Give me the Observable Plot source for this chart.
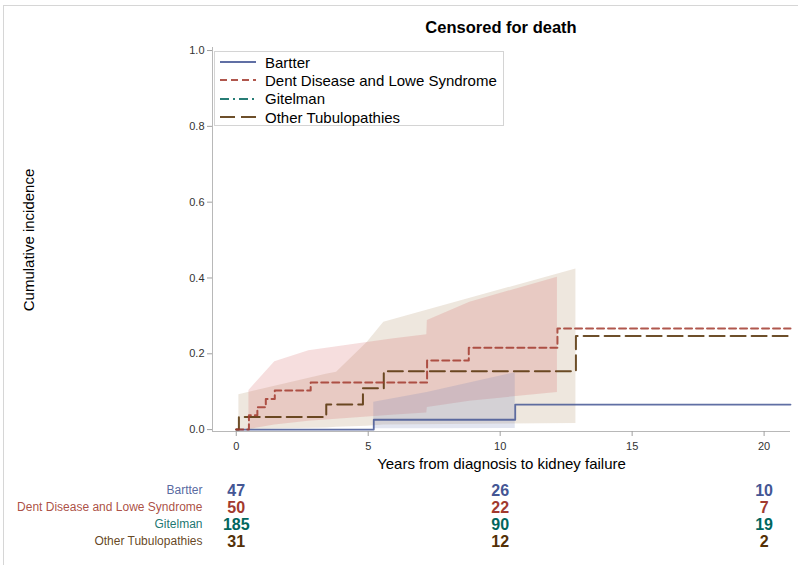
<!DOCTYPE html>
<html><head><meta charset="utf-8">
<script src="https://cdn.jsdelivr.net/npm/d3@7"></script>
<script src="https://cdn.jsdelivr.net/npm/@observablehq/plot@0.6"></script>
<style>
body{margin:0;background:#fff;font-family:"Liberation Sans",Arial,sans-serif;}
#wrap{position:relative;width:798px;height:565px;overflow:hidden;}
#border{position:absolute;left:3px;top:5px;width:900px;height:700px;border-top:1px solid #d6d6d6;border-left:1px solid #d6d6d6;}
#title{position:absolute;top:18px;left:212px;width:578px;text-align:center;font-weight:bold;font-size:16.5px;color:#000;}
#ylab{position:absolute;left:28px;top:240px;transform:translate(-50%,-50%) rotate(-90deg);font-size:15px;white-space:nowrap;color:#000;}
#main{position:absolute;left:0;top:0;}
#risk{position:absolute;left:0;top:480px;}
#legend{position:absolute;left:214px;top:51px;width:290px;height:75px;border:1px solid #d4d4d4;background:#fff;box-sizing:border-box;padding-top:1px;}
.item{display:flex;align-items:center;height:18.3px;font-size:15px;color:#000;}
.item svg{margin-left:5px;margin-right:9px;}
svg{overflow:visible;}
</style></head>
<body><div id="wrap"><div id="border"></div><div id="title">Censored for death</div><div id="main"></div><div id="risk"></div><div id="legend"></div><div id="ylab">Cumulative incidence</div></div>
<script>
const groups = ["Bartter", "Dent Disease and Lowe Syndrome", "Gitelman", "Other Tubulopathies"];
const colors = ["#445694", "#A23A2E", "#01665E", "#543005"];
const bandColors = ["#6F7EB3", "#D05B5B", "#66A5A0", "#A9865B"];
const dashes = ["none", "7,4", "9,4,2,4", "15,6"];

// cumulative incidence step curves
const bartterT = [0, 5.21, 10.57, 21];
const bartterCIF = [0, 0.026, 0.066, 0.066];
const dentT = [0, 0.48, 0.80, 1.12, 1.46, 2.82, 7.23, 8.81, 12.17, 21];
const dentCIF = [0, 0.038, 0.059, 0.081, 0.103, 0.124, 0.182, 0.216, 0.267, 0.267];
const otherT = [0, 0.1, 3.41, 4.80, 5.59, 12.87, 21];
const otherCIF = [0, 0.033, 0.066, 0.109, 0.154, 0.247, 0.247];

// confidence bands
const bartterBandT = [5.21, 7.23, 10.57];
const bartterLo = [0.002, 0.002, 0.003];
const bartterHi = [0.072, 0.098, 0.150];
const dentBandT = [0.48, 1.46, 2.75, 5.9, 7.22, 7.24, 8.85, 12.17];
const dentLo = [0.0, 0.012, 0.022, 0.038, 0.044, 0.058, 0.075, 0.098];
const dentHi = [0.103, 0.179, 0.208, 0.239, 0.250, 0.288, 0.336, 0.402];
const otherBandT = [0.1, 3.41, 3.8, 4.96, 5.59, 12.87];
const otherLo = [0.0, 0.004, 0.006, 0.009, 0.012, 0.016];
const otherHi = [0.092, 0.146, 0.151, 0.230, 0.283, 0.424];

// numbers at risk
const riskAt = [0, 10, 20];
const bartterRisk = [47, 26, 10];
const dentRisk = [50, 22, 7];
const gitelmanRisk = [185, 90, 19];
const otherRisk = [31, 12, 2];

const xTicks = [0, 5, 10, 15, 20];
const yTicks = [0, 0.2, 0.4, 0.6, 0.8, 1.0];

const toPts = (T, V, g) => T.map((t, i) => ({t, v: V[i], g}));
const toBand = (T, L, H, g) => T.map((t, i) => ({t, lo: L[i], hi: H[i], g}));

const xDomain = [-0.9, 21];
const colorScale = {domain: groups, range: colors};

const main = Plot.plot({
  width: 798, height: 480,
  marginLeft: 212, marginRight: 8, marginTop: 47, marginBottom: 49,
  style: {fontFamily: '"Liberation Sans", Arial, sans-serif', background: "transparent"},
  x: {domain: xDomain, label: null},
  y: {domain: [-0.005, 1.008], label: null},
  color: colorScale,
  marks: [
    Plot.areaY(toBand(otherBandT, otherLo, otherHi, groups[3]), {x: "t", y1: "lo", y2: "hi", fill: bandColors[3], fillOpacity: 0.2}),
    Plot.areaY(toBand(dentBandT, dentLo, dentHi, groups[1]), {x: "t", y1: "lo", y2: "hi", fill: bandColors[1], fillOpacity: 0.2}),
    Plot.areaY(toBand(bartterBandT, bartterLo, bartterHi, groups[0]), {x: "t", y1: "lo", y2: "hi", fill: bandColors[0], fillOpacity: 0.2}),
    Plot.ruleX([xDomain[0]], {stroke: "#b8b8b8"}),
    Plot.ruleY([-0.005], {stroke: "#b8b8b8"}),
    Plot.axisX({ticks: xTicks, tickSize: 5, tickPadding: 6, fontSize: 11, stroke: "#a0a0a0", fill: "#333", label: null}),
    Plot.axisY({ticks: yTicks, tickFormat: ".1f", tickSize: 5, tickPadding: 3, fontSize: 11, stroke: "#a0a0a0", fill: "#333", label: null}),
    Plot.line(toPts(bartterT, bartterCIF, groups[0]), {x: "t", y: "v", stroke: "g", strokeWidth: 1.8, strokeOpacity: 0.85, curve: "step-after"}),
    Plot.line(toPts(otherT, otherCIF, groups[3]), {x: "t", y: "v", stroke: "g", strokeWidth: 2, strokeOpacity: 0.85, strokeDasharray: dashes[3], curve: "step-after"}),
    Plot.line(toPts(dentT, dentCIF, groups[1]), {x: "t", y: "v", stroke: "g", strokeWidth: 2, strokeOpacity: 0.85, strokeDasharray: dashes[1], curve: "step-after"}),
    Plot.text(["Years from diagnosis to kidney failure"], {frameAnchor: "bottom", dy: 37, fontSize: 15, fill: "#000"})
  ]
});
document.getElementById("main").appendChild(main);

const riskRows = [];
[bartterRisk, dentRisk, gitelmanRisk, otherRisk].forEach((arr, gi) =>
  arr.forEach((n, i) => riskRows.push({t: riskAt[i], n, g: groups[gi]})));

const risk = Plot.plot({
  width: 798, height: 85,
  marginLeft: 212, marginRight: 8, marginTop: 0, marginBottom: 0,
  style: {fontFamily: '"Liberation Sans", Arial, sans-serif', background: "transparent"},
  x: {domain: xDomain, axis: null},
  y: {type: "point", domain: groups, range: [9, 62], padding: 0, axis: null},
  color: colorScale,
  marks: [
    Plot.text(riskRows, {x: "t", y: "g", text: d => String(d.n), fill: "g", fontWeight: "bold", fontSize: 16}),
    Plot.text(groups, {x: () => xDomain[0], y: d => d, text: d => d, fill: d => d, fillOpacity: 0.9, textAnchor: "end", dx: -10, fontSize: 12})
  ]
});
document.getElementById("risk").appendChild(risk);

const leg = document.getElementById("legend");
groups.forEach((g, i) => {
  const div = document.createElement("div");
  div.className = "item";
  div.innerHTML = `<svg width="36" height="4"><line x1="0" x2="36" y1="2" y2="2" stroke="${colors[i]}" stroke-opacity="0.85" stroke-width="2" ${dashes[i] !== "none" ? `stroke-dasharray="${dashes[i]}"` : ""}/></svg><span>${g}</span>`;
  leg.appendChild(div);
});
</script></body></html>
